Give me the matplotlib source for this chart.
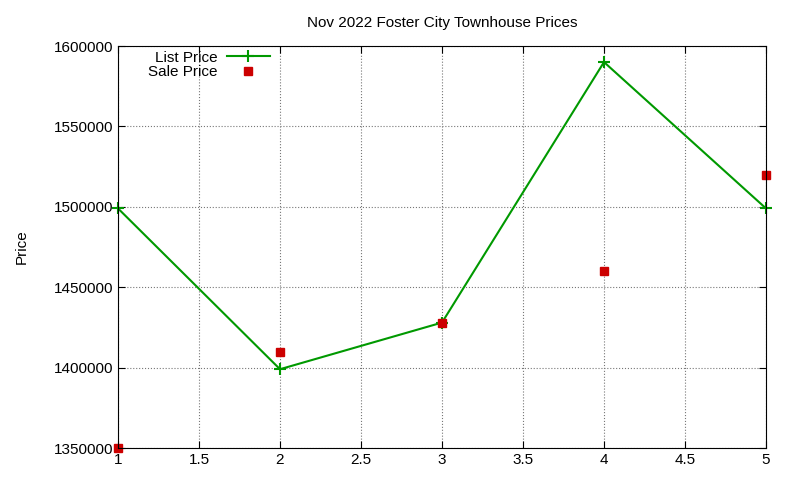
import matplotlib
matplotlib.use("Agg")
import matplotlib.pyplot as plt

x = [1, 2, 3, 4, 5]
list_price = [1499000, 1399000, 1428000, 1590000, 1499000]
sale_price = [1350000, 1410000, 1428000, 1460000, 1520000]
yticks = [1350000, 1400000, 1450000, 1500000, 1550000, 1600000]

plt.rcParams['font.family'] = ['Liberation Sans', 'DejaVu Sans']
fig = plt.figure(figsize=(8, 4.8), dpi=100)
ax = fig.add_axes([118/800, 1-448/480, (766-118)/800, (448-46)/480])
ax.plot(x, list_price, color='#009900', lw=1.5, marker='+', ms=8, mew=1.5, label='List Price', clip_on=False)
ax.plot(x, sale_price, ls='none', marker='s', ms=5.5, color='#cc0000', label='Sale Price', clip_on=False)
ax.set_xlim(1, 5)
ax.set_ylim(1350000, 1600000)
ax.set_xticks([1, 1.5, 2, 2.5, 3, 3.5, 4, 4.5, 5])
ax.set_xticklabels(['1', '1.5', '2', '2.5', '3', '3.5', '4', '4.5', '5'])
ax.set_yticks(yticks)
ax.set_yticklabels([str(v) for v in yticks])
ax.tick_params(direction='in', top=True, right=True, labelsize=11, length=5)
ax.grid(True, ls=':', color='#777777', lw=0.8)
ax.set_ylabel('Price', fontsize=11, labelpad=18)
ax.set_title('Nov 2022 Foster City Townhouse Prices', fontsize=11, pad=14)
ax.legend(loc='upper left', bbox_to_anchor=(0.03, 1.015), markerfirst=False, frameon=False,
          fontsize=11, handlelength=2.8, labelspacing=0.05, borderpad=0.2, handletextpad=0.6)
fig.savefig('out.png')
